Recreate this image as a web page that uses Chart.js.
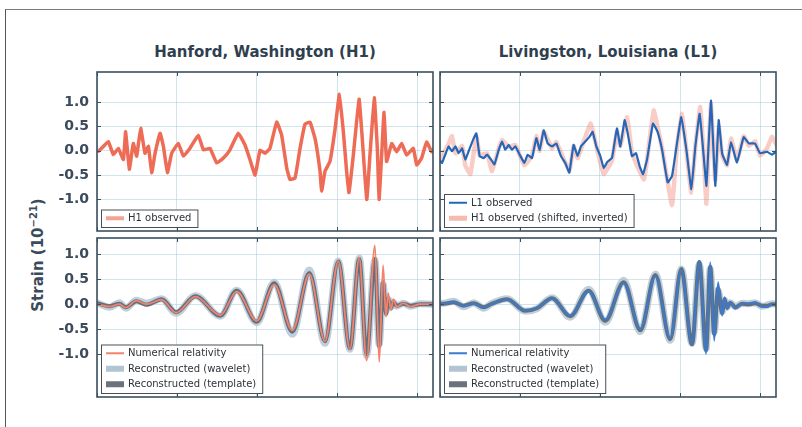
<!DOCTYPE html>
<html>
<head>
<meta charset="utf-8">
<script src="https://cdn.jsdelivr.net/npm/chart.js@4.4.0/dist/chart.umd.min.js"></script>
<style>
body{margin:0;background:#fff;width:802px;height:427px;overflow:hidden;position:relative;font-family:"DejaVu Sans",sans-serif}
.frame{position:absolute;left:5px;top:9px;right:-2px;bottom:-2px;border-top:1px solid #7a7a7a;border-left:1px solid #555}
canvas{position:absolute}
.title{position:absolute;top:43px;width:336px;text-align:center;font-weight:bold;font-size:15px;color:#2f3f4f}
.ylab{position:absolute;left:37px;top:255px;transform:translate(-50%,-50%) rotate(-90deg);white-space:nowrap;font-size:15px;font-weight:bold;color:#3b4b5c}
.ylab sup{font-size:10px}
</style>
</head>
<body>
<div class="frame"></div>
<div class="title" style="left:97px">Hanford, Washington (H1)</div>
<div class="title" style="left:440px">Livingston, Louisiana (L1)</div>
<div class="ylab">Strain (10<sup>−21</sup>)</div>
<canvas id="c1" width="415" height="163" style="left:20px;top:70px"></canvas>
<canvas id="c2" width="415" height="163" style="left:20px;top:236px"></canvas>
<canvas id="c3" width="340" height="163" style="left:438px;top:70px"></canvas>
<canvas id="c4" width="340" height="163" style="left:438px;top:236px"></canvas>
<script>
// time axis (s) and tick values
var xTicks = [0.25, 0.30, 0.35, 0.40, 0.45];
var yTicks = [-1.0, -0.5, 0.0, 0.5, 1.0];

// H1 observed (top left)
var tH1 = [0.25,0.2508,0.254,0.2571,0.2602,0.2633,0.2665,0.2679,0.2702,0.2727,0.2748,0.2773,0.28,0.2821,0.2842,0.2863,0.2894,0.2915,0.294,0.2967,0.3008,0.304,0.3081,0.3133,0.3165,0.3206,0.3248,0.329,0.3331,0.3383,0.3425,0.3456,0.3488,0.3519,0.355,0.3581,0.3623,0.3654,0.3686,0.3706,0.3738,0.3769,0.38,0.3831,0.3863,0.3894,0.3904,0.3925,0.3956,0.3988,0.4015,0.404,0.406,0.4075,0.4102,0.4138,0.4158,0.4186,0.4206,0.4233,0.4252,0.4263,0.4279,0.4294,0.431,0.4342,0.4373,0.4404,0.4435,0.4477,0.4498,0.4529,0.456,0.4592,0.46];
var h1Obs = [0.02,-0.01,0.09,0.19,-0.08,0.05,-0.18,0.39,-0.38,0.15,-0.11,0.46,-0.05,0.09,-0.45,-0.05,0.36,0.09,-0.45,-0.05,0.15,-0.11,0.05,0.32,0.02,0.05,-0.25,-0.15,0.02,0.36,0.12,-0.18,-0.5,0.01,-0.05,0.05,0.59,0.32,-0.36,-0.59,-0.56,0.05,0.55,0.59,0.25,-0.42,-0.83,-0.42,-0.22,0.45,1.16,0.38,-0.42,-0.86,-0.09,1.06,0.25,-1.0,-0.09,1.09,0.05,-1.0,-0.09,0.79,-0.22,0.15,-0.02,0.15,-0.09,0.05,-0.29,-0.15,0.18,-0.02,0.05];

// L1 observed (top right)
var tL1 = [0.25,0.2513,0.2533,0.2554,0.2575,0.2596,0.2617,0.2638,0.2658,0.2679,0.2706,0.2727,0.2748,0.2773,0.2794,0.2819,0.284,0.2867,0.2888,0.2908,0.2929,0.295,0.2971,0.2998,0.3027,0.3048,0.3075,0.3102,0.3123,0.3148,0.3173,0.32,0.3227,0.3256,0.3283,0.3308,0.3335,0.336,0.3381,0.3408,0.3435,0.3454,0.3477,0.3502,0.3523,0.3548,0.3575,0.3606,0.3627,0.3654,0.3673,0.37,0.3725,0.3748,0.3769,0.3794,0.3831,0.386,0.3888,0.3923,0.395,0.3981,0.4008,0.404,0.4071,0.4096,0.4123,0.4148,0.4165,0.4179,0.4194,0.421,0.4221,0.4242,0.4263,0.4294,0.4319,0.4356,0.4398,0.4431,0.4469,0.45,0.4544,0.4575,0.4606];
var l1Obs = [-0.2,-0.25,-0.08,0.09,-0.01,0.09,-0.05,0.05,-0.18,-0.01,0.22,0.36,-0.11,-0.15,-0.08,-0.18,-0.28,0.02,0.19,0.02,0.12,0.02,0.09,-0.08,-0.25,-0.08,-0.15,0.26,0.02,0.42,0.15,0.09,0.15,-0.11,-0.25,-0.45,0.12,-0.11,0.09,0.19,0.29,0.39,0.09,-0.11,-0.35,-0.22,-0.15,0.46,0.09,0.63,0.36,-0.11,-0.05,-0.32,-0.48,-0.18,0.56,0.39,0.02,-0.65,-0.52,0.15,0.69,0.02,-0.79,0.09,0.76,-0.11,-0.72,0.15,1.03,-0.05,-0.72,0.63,-0.05,-0.29,0.18,-0.24,0.28,0.15,0.15,-0.05,-0.02,-0.08,0.0];

// H1 observed, shifted and inverted (top right, under L1)
var tHs = [0.25,0.2554,0.2575,0.2596,0.2638,0.2658,0.269,0.2727,0.2748,0.2794,0.2825,0.2867,0.2888,0.2929,0.2971,0.3027,0.3075,0.3102,0.3123,0.3148,0.32,0.3227,0.3308,0.3335,0.336,0.344,0.3477,0.3523,0.3575,0.3606,0.3627,0.367,0.37,0.3773,0.3794,0.3835,0.3888,0.395,0.3981,0.4013,0.404,0.4071,0.4096,0.4127,0.4148,0.4165,0.4179,0.4194,0.421,0.4221,0.4242,0.4263,0.4294,0.4319,0.4356,0.4398,0.4431,0.4469,0.45,0.4544,0.4575,0.4606];
var h1Shift = [-0.2,0.15,0.3,-0.05,0.1,-0.3,-0.48,0.3,-0.1,-0.05,-0.42,0.05,0.22,0.08,0.12,-0.3,-0.1,0.3,0.0,0.4,0.05,0.18,-0.42,0.1,-0.15,0.56,0.1,-0.48,-0.2,0.4,0.1,0.69,-0.05,-0.59,-0.2,0.83,0.05,-1.12,0.1,0.76,0.0,-0.86,0.1,0.9,-0.1,-1.09,0.1,0.96,-0.05,-0.6,0.5,-0.1,-0.3,0.25,-0.2,0.3,0.1,0.2,-0.1,0.05,0.29,0.1];

// bottom left: numerical relativity and reconstructions (H1)
var tNRH = [0.25,0.258,0.264,0.268,0.2746,0.281,0.2904,0.2994,0.3115,0.3271,0.3373,0.3498,0.3608,0.3721,0.3827,0.3925,0.4008,0.4081,0.4139,0.4185,0.4237,0.4264,0.4288,0.4306,0.432,0.4337,0.4352,0.4373,0.4415,0.446,0.452,0.46];
var nrH = [0,-0.05,0,-0.07,0.07,0,0.09,-0.17,0.15,-0.22,0.25,-0.33,0.39,-0.52,0.6,-0.74,0.86,-0.9,0.93,-1.12,1.17,-1.15,0.78,-0.25,0.22,-0.12,0.1,-0.05,0.02,-0.05,0,0];
var tmplH = [0.02,-0.04,0.01,-0.06,0.06,-0.01,0.1,-0.16,0.16,-0.23,0.27,-0.35,0.42,-0.55,0.62,-0.74,0.85,-0.88,0.9,-1.0,0.9,-0.85,0.45,-0.2,0.12,-0.08,0.05,-0.03,0.01,-0.03,0,0];
var waveH = [0.03,-0.06,0.03,-0.08,0.08,0.02,0.11,-0.18,0.17,-0.24,0.28,-0.37,0.44,-0.6,0.68,-0.78,0.86,-0.9,0.92,-1.02,0.88,-0.8,0.4,-0.15,0.1,-0.06,0.04,-0.04,0.02,-0.04,0.01,0];

// bottom right: numerical relativity and reconstructions (L1)
var tNRL = [0.25,0.2523,0.2586,0.2648,0.2711,0.2773,0.2825,0.2919,0.3033,0.3106,0.32,0.3314,0.3429,0.3533,0.3648,0.3752,0.3846,0.3939,0.4008,0.4075,0.4121,0.4163,0.4189,0.4214,0.4238,0.4263,0.4279,0.4294,0.4314,0.4346,0.4388,0.4429,0.4471,0.4513,0.4544,0.4575,0.4606];
var nrL = [0.0,0.0,0.05,-0.04,0.01,-0.07,0.0,0.09,-0.12,-0.07,0.11,-0.22,0.25,-0.3,0.41,-0.48,0.55,-0.67,0.68,-0.8,0.87,-0.99,0.84,-0.73,0.44,-0.23,0.14,-0.1,0.04,-0.09,0.01,0.01,0.04,-0.06,-0.06,0.0,0.0];
var tmplL = [0.01,0.01,0.04,-0.03,0.02,-0.06,0.01,0.1,-0.13,-0.08,0.12,-0.24,0.27,-0.33,0.44,-0.52,0.58,-0.7,0.7,-0.8,0.84,-0.92,0.75,-0.6,0.32,-0.18,0.1,-0.07,0.03,-0.06,0.01,0.0,0.02,-0.03,-0.03,0.0,0.0];
var waveL = [0.02,0.02,0.06,-0.05,0.03,-0.08,0.02,0.11,-0.14,-0.09,0.13,-0.26,0.3,-0.36,0.48,-0.55,0.6,-0.72,0.7,-0.78,0.8,-0.88,0.7,-0.55,0.28,-0.15,0.08,-0.06,0.03,-0.05,0.02,0.01,0.03,-0.04,-0.02,0.01,0.0];

var axisColor = '#3a5060';
var gridColor = 'rgba(160,195,215,0.45)';
var salmon = '#ee6c56';
var blue = '#2466b8';
var waveColor = 'rgba(175,195,210,0.8)';
var tmplColor = 'rgba(85,95,108,0.85)';

function pts(ts, vs) {
  return ts.map(function (t, i) { return {x: t, y: vs[i]}; });
}

// order: lower value is drawn on top
function line(ts, vs, color, width, smooth, order) {
  return {
    data: pts(ts, vs),
    borderColor: color,
    borderWidth: width,
    pointRadius: 0,
    fill: false,
    order: order || 0,
    tension: smooth ? 0.4 : 0.1,
    cubicInterpolationMode: smooth ? 'monotone' : 'default',
    borderJoinStyle: 'round'
  };
}

// frame, inward ticks and legend box inside the axes
var panelDeco = {
  id: 'panelDeco',
  afterDraw: function (chart, args, opts) {
    var ctx = chart.ctx, ca = chart.chartArea;
    var xs = chart.scales.x, ys = chart.scales.y;
    ctx.save();
    ctx.strokeStyle = axisColor;
    ctx.lineWidth = 1;
    xTicks.forEach(function (v) {
      var px = Math.round(xs.getPixelForValue(v)) + 0.5;
      ctx.beginPath();
      ctx.moveTo(px, ca.top); ctx.lineTo(px, ca.top + 4);
      ctx.moveTo(px, ca.bottom); ctx.lineTo(px, ca.bottom - 4);
      ctx.stroke();
    });
    yTicks.forEach(function (v) {
      var py = Math.round(ys.getPixelForValue(v)) + 0.5;
      ctx.beginPath();
      ctx.moveTo(ca.left, py); ctx.lineTo(ca.left + 4, py);
      ctx.moveTo(ca.right, py); ctx.lineTo(ca.right - 4, py);
      ctx.stroke();
    });
    ctx.lineWidth = 1.6;
    ctx.strokeRect(ca.left, ca.top, ca.right - ca.left, ca.bottom - ca.top);

    var items = opts.items || [];
    ctx.font = '10px "DejaVu Sans"';
    var tw = 0;
    items.forEach(function (it) { tw = Math.max(tw, ctx.measureText(it.label).width); });
    var rowH = 15.5;
    var w = 27 + tw + 6, h = items.length * rowH + 2;
    var x0 = ca.left + 4, y0 = ca.bottom - 4 - h;
    ctx.fillStyle = 'rgba(255,255,255,0.9)';
    ctx.fillRect(x0, y0, w, h);
    ctx.strokeStyle = '#4a4f55';
    ctx.lineWidth = 1;
    ctx.strokeRect(x0 + 0.5, y0 + 0.5, w, h);
    items.forEach(function (it, i) {
      var yc = y0 + 1 + rowH * (i + 0.5);
      if (it.band) {
        ctx.fillStyle = it.color;
        ctx.fillRect(x0 + 5, yc - 3, 18, 6);
      } else {
        ctx.strokeStyle = it.color;
        ctx.lineWidth = it.width;
        ctx.beginPath();
        ctx.moveTo(x0 + 5, yc); ctx.lineTo(x0 + 23, yc);
        ctx.stroke();
      }
      ctx.fillStyle = '#2e3338';
      ctx.textBaseline = 'middle';
      ctx.fillText(it.label, x0 + 27, yc + 0.5);
    });
    ctx.restore();
  }
};

function panel(id, showY, yMin, yMax, datasets, items) {
  return new Chart(document.getElementById(id), {
    type: 'line',
    data: {datasets: datasets},
    options: {
      responsive: false,
      animation: false,
      events: [],
      layout: {autoPadding: false, padding: {top: 2, bottom: 2, right: 2, left: showY ? 0 : 2}},
      plugins: {legend: {display: false}, tooltip: {enabled: false}, panelDeco: {items: items}},
      scales: {
        x: {
          type: 'linear', min: 0.25, max: 0.46,
          afterBuildTicks: function (s) { s.ticks = xTicks.map(function (v) { return {value: v}; }); },
          afterFit: function (s) { s.height = 0; },
          ticks: {display: false},
          grid: {color: gridColor, drawTicks: false},
          border: {display: false}
        },
        y: {
          min: yMin, max: yMax,
          afterBuildTicks: function (s) { s.ticks = yTicks.map(function (v) { return {value: v}; }); },
          afterFit: function (s) { s.width = showY ? 77 : 0; s.paddingTop = 0; s.paddingBottom = 0; },
          ticks: {
            display: showY, padding: 8, color: '#3b4b5c',
            font: {family: 'DejaVu Sans', size: 14, weight: 'bold'},
            callback: function (v) { return v.toFixed(1); }
          },
          grid: {color: gridColor, drawTicks: false},
          border: {display: false}
        }
      }
    },
    plugins: [panelDeco]
  });
}

panel('c1', true, -1.65, 1.62,
  [line(tH1, h1Obs, salmon, 3.5, false, 0)],
  [{label: 'H1 observed', color: 'rgba(240,140,120,0.8)', width: 4}]);

panel('c2', true, -1.85, 1.32,
  [line(tNRH, nrH, '#f2846e', 1.8, true, 0),
   line(tNRH, tmplH, tmplColor, 4, true, 1),
   line(tNRH, waveH, waveColor, 7, true, 2)],
  [{label: 'Numerical relativity', color: '#f2846e', width: 2},
   {label: 'Reconstructed (wavelet)', color: 'rgba(170,190,205,0.9)', band: true},
   {label: 'Reconstructed (template)', color: 'rgba(90,100,110,0.9)', band: true}]);

panel('c3', false, -1.65, 1.62,
  [line(tL1, l1Obs, blue, 2.2, false, 0),
   line(tHs, h1Shift, 'rgba(240,130,110,0.4)', 4.5, false, 1)],
  [{label: 'L1 observed', color: blue, width: 2},
   {label: 'H1 observed (shifted, inverted)', color: 'rgba(240,140,120,0.6)', width: 5}]);

panel('c4', false, -1.85, 1.32,
  [line(tNRL, nrL, '#3a7bd0', 1.8, true, 0),
   line(tNRL, tmplL, tmplColor, 4, true, 1),
   line(tNRL, waveL, waveColor, 7, true, 2)],
  [{label: 'Numerical relativity', color: '#3a7bd0', width: 2},
   {label: 'Reconstructed (wavelet)', color: 'rgba(170,190,205,0.9)', band: true},
   {label: 'Reconstructed (template)', color: 'rgba(90,100,110,0.9)', band: true}]);
</script>
</body>
</html>
